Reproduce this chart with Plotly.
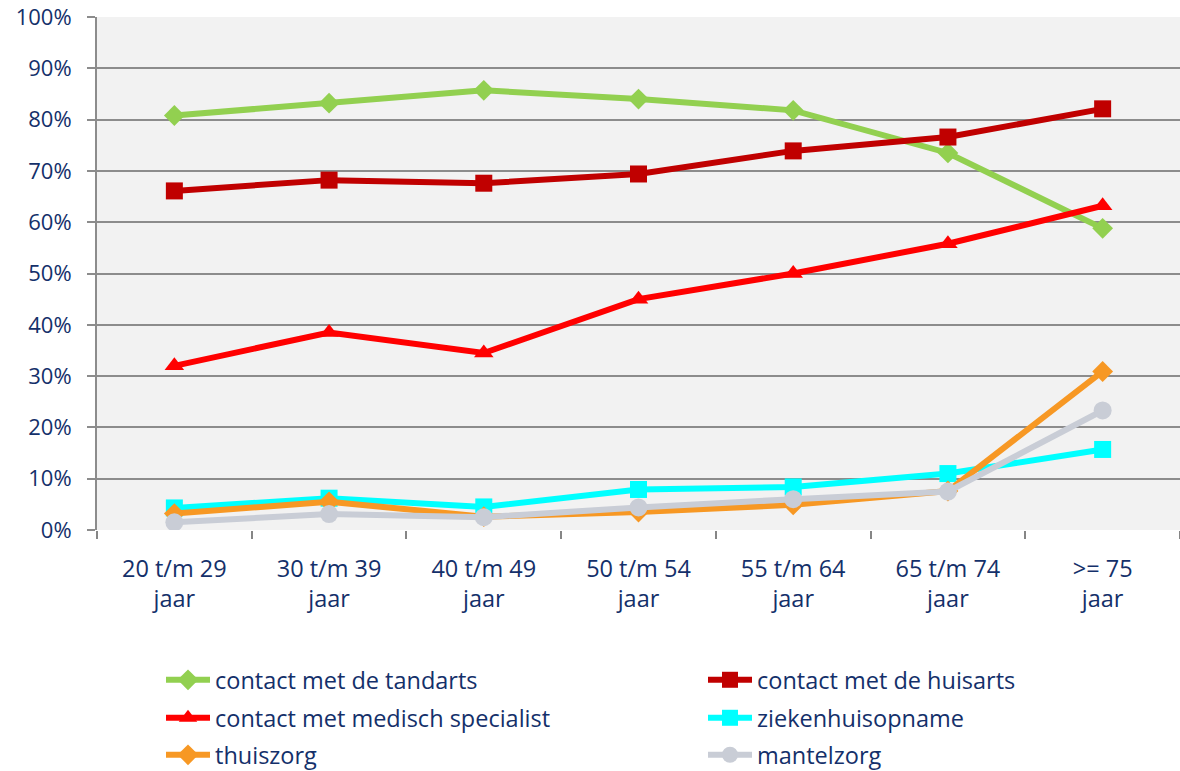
import plotly.graph_objects as go

categories = ["20 t/m 29<br>jaar", "30 t/m 39<br>jaar", "40 t/m 49<br>jaar", "50 t/m 54<br>jaar",
              "55 t/m 64<br>jaar", "65 t/m 74<br>jaar", ">= 75<br>jaar"]

tandarts = [80.8, 83.2, 85.7, 84.0, 81.8, 73.5, 58.8]
huisarts = [66.1, 68.2, 67.6, 69.4, 73.9, 76.6, 82.1]
specialist = [32.0, 38.5, 34.5, 45.0, 50.0, 55.8, 63.2]
ziekenhuis = [4.3, 6.2, 4.5, 7.9, 8.4, 11.0, 15.7]
thuiszorg = [3.2, 5.5, 2.6, 3.5, 4.9, 7.6, 30.9]
mantelzorg = [1.5, 3.1, 2.5, 4.4, 6.0, 7.5, 23.3]

series = [
    ("contact met de tandarts", tandarts, "#92D050", "diamond", 16),
    ("contact met de huisarts", huisarts, "#C00000", "square", 17),
    ("contact met medisch specialist", specialist, "#FF0000", "triangle-up", 17),
    ("ziekenhuisopname", ziekenhuis, "#00FFFF", "square", 17),
    ("thuiszorg", thuiszorg, "#F79824", "diamond", 16),
    ("mantelzorg", mantelzorg, "#C9CDD6", "circle", 18),
]

text_color = "#14306A"
font_family = "'Open Sans', sans-serif"

# legend slots: (column x of item origin, row center y) in pixels
legend_cols = [161, 703]
legend_rows = [680, 718, 755]

fig = go.Figure()
legend_layout = {}
for i, (name, vals, color, symbol, size) in enumerate(series):
    lg = "legend" if i == 0 else f"legend{i + 1}"
    fig.add_trace(go.Scatter(
        x=categories, y=vals, name=name, mode="lines+markers",
        line=dict(color=color, width=6),
        marker=dict(symbol=symbol, size=size, color=color),
        legend=lg,
    ))
    cx = legend_cols[i % 2]
    cy = legend_rows[i // 2]
    legend_layout[lg] = dict(
        xref="container", yref="container",
        x=cx / 1180, y=1 - cy / 771,
        xanchor="left", yanchor="middle",
        itemwidth=44,
        font=dict(family=font_family, size=23.5, color=text_color),
        bgcolor="rgba(0,0,0,0)",
        borderwidth=0,
    )

fig.update_layout(
    width=1180, height=771,
    margin=dict(l=97, r=0, t=17, b=241, autoexpand=False),
    paper_bgcolor="white",
    plot_bgcolor="#F2F2F2",
    font=dict(family=font_family, size=22, color=text_color),
    showlegend=True,
    xaxis=dict(
        type="category",
        range=[-0.5, 6.5],
        showgrid=False,
        showline=False,
        ticks="outside",
        tickson="boundaries",
        ticklen=8,
        tickcolor="#868686",
        tickwidth=2,
        tickangle=0,
        ticklabelstandoff=22,
        tickfont=dict(size=23.5, color=text_color),
    ),
    yaxis=dict(
        range=[0, 100],
        dtick=10,
        ticksuffix="%",
        showgrid=True,
        gridcolor="#8C8C8C",
        gridwidth=2,
        showline=True,
        linecolor="#8C8C8C",
        linewidth=2,
        ticks="outside",
        ticklen=8,
        tickcolor="#8C8C8C",
        tickwidth=2,
        zeroline=False,
        ticklabelstandoff=11,
        tickfont=dict(size=22, color=text_color),
    ),
    **legend_layout,
)

fig.write_html("out.html")
